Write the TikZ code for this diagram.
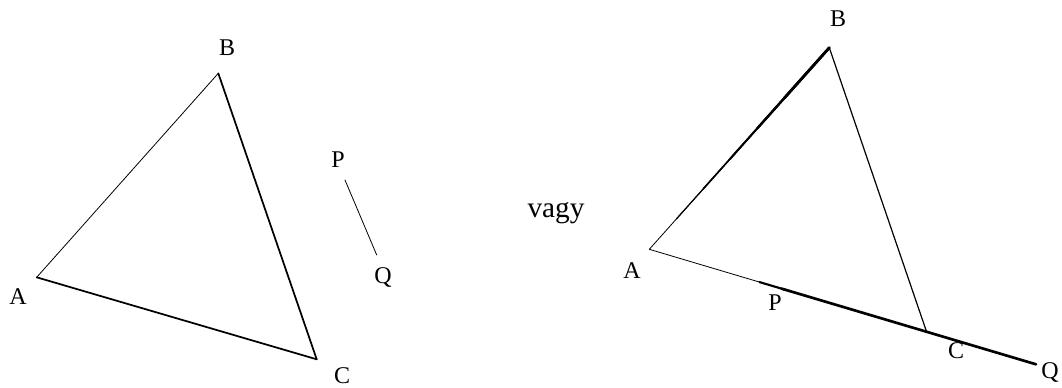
\documentclass[tikz,border=0pt]{standalone}
\usepackage{fontspec}
\setmainfont{Liberation Serif}
\usetikzlibrary{calc}
\begin{document}
\begin{tikzpicture}[x=0.75pt, y=-0.75pt, lbl/.style={font=\fontsize{18}{20}\selectfont, inner sep=0pt}, hair/.style={line width=0.6pt, line cap=round}, seg/.style={line width=1.3pt, line cap=round}, heavy/.style={line width=2pt, line cap=round}]
\useasboundingbox (0,0) rectangle (1062,387);
% first case: PQ apart from the triangle
\coordinate (A1) at (36.7,277.3);
\coordinate (B1) at (218.3,73.3);
\coordinate (C1) at (316.7,359.3);
\coordinate (P1) at (345,180);
\coordinate (Q1) at (376.7,255);
\node[lbl] (lA1) at (18,297) {A};
\node[lbl] (lB1) at (227,48) {B};
\node[lbl] (lC1) at (342,376) {C};
\node[lbl] (lP1) at (338,160) {P};
\node[lbl] (lQ1) at (383,277) {Q};
\draw[hair] (A1) -- (B1);
\draw[seg] (B1) -- (C1);
\draw[seg] (C1) -- (A1);
\draw[hair] (P1) -- (Q1);
\node[font=\fontsize{22}{24}\selectfont, inner sep=0pt] (vagy) at (556,213) {vagy};
% second case: PQ on the line AC
\coordinate (A2) at (649.3,249.3);
\coordinate (B2) at (829.3,47.7);
\coordinate (Q2) at (1036,364.3);
\coordinate (C2) at ($(A2)!0.717!(Q2)$);
\coordinate (P2) at ($(A2)!0.285!(Q2)$);
\node[lbl] (lA2) at (632,271) {A};
\node[lbl] (lB2) at (838,19) {B};
\node[lbl] (lC2) at (956,351) {C};
\node[lbl] (lP2) at (775,303) {P};
\node[lbl] (lQ2) at (1050,372) {Q};
\foreach \t/\w in {0/0.6, 0.15/0.9, 0.3/1.2, 0.45/1.5, 0.6/1.8, 0.75/2.1}
  \draw[line width=\w pt, line cap=round] ($(A2)!\t!(B2)$) -- (B2);
\draw[hair, line width=0.9pt] (B2) -- (C2);
\draw[hair] (A2) -- (P2);
\draw[heavy, line width=1.6pt] (P2) -- ($(P2)!0.1!(Q2)$);
\draw[heavy] ($(P2)!0.08!(Q2)$) -- (Q2);
\end{tikzpicture}
\end{document}
